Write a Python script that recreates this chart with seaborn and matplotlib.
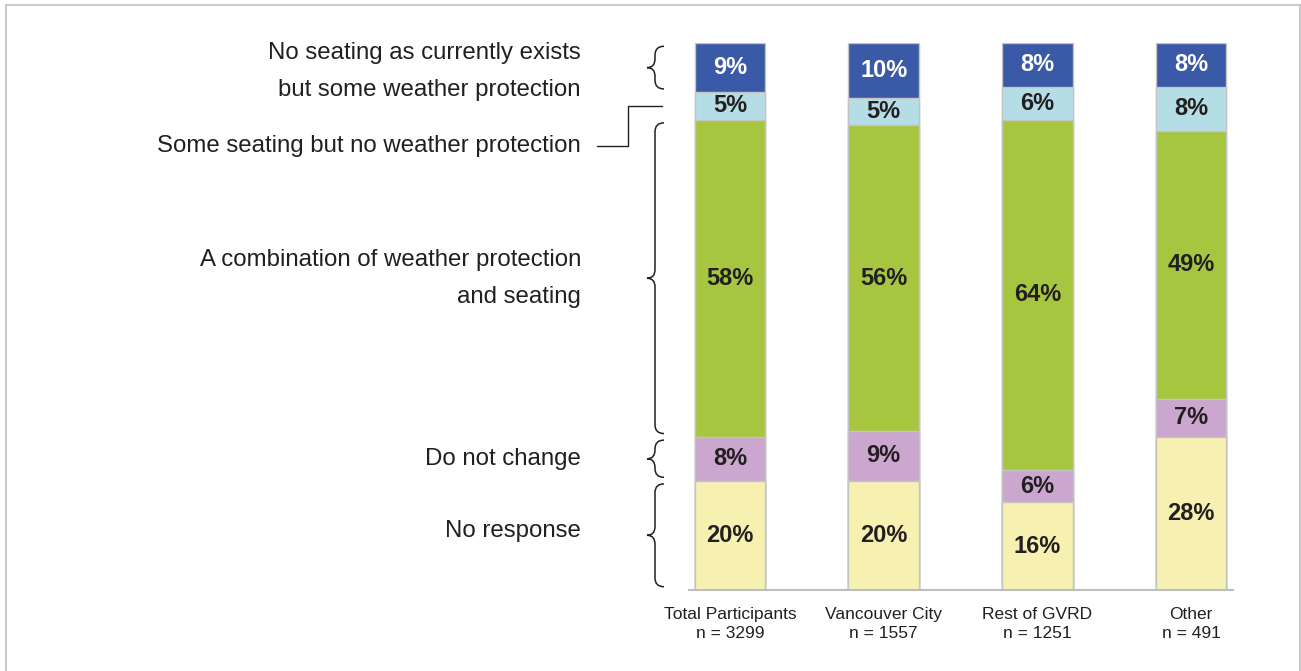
import numpy as np
import pandas as pd
import matplotlib
matplotlib.use("Agg")
import matplotlib.pyplot as plt
import seaborn as sns
from matplotlib.path import Path
from matplotlib.patches import PathPatch, Rectangle
from matplotlib.lines import Line2D
from matplotlib.transforms import blended_transform_factory

# ---------------- data ----------------
categories = ["Total Participants\nn = 3299", "Vancouver City\nn = 1557",
              "Rest of GVRD\nn = 1251", "Other\nn = 491"]
no_response = [20, 20, 16, 28]
do_not_change = [8, 9, 6, 7]
combination = [58, 56, 64, 49]
seating_only = [5, 5, 6, 8]
weather_only = [9, 10, 8, 8]

series_names = ["No response", "Do not change",
                "A combination of weather protection\nand seating",
                "Some seating but no weather protection",
                "No seating as currently exists\nbut some weather protection"]
series_values = [no_response, do_not_change, combination, seating_only, weather_only]
series_colors = ["#F6F1B1", "#CBA6CE", "#A6C63F", "#B4DDE6", "#3A59A6"]
label_colors = ["#231F20", "#231F20", "#231F20", "#231F20", "#FFFFFF"]

sns.set_theme(style="white")
plt.rcParams["font.family"] = ["Liberation Sans", "DejaVu Sans"]

W, H = 1301, 671
fig = plt.figure(figsize=(W / 100, H / 100), dpi=100)

# axes placement (pixels)
x_left_px, x_right_px = 688.5, 1232.5
y_top_px, y_bot_px = 43, 590
ax = fig.add_axes([x_left_px / W, 1 - y_bot_px / H,
                   (x_right_px - x_left_px) / W, (y_bot_px - y_top_px) / H])

vals = np.array(series_values, dtype=float)
cum = np.cumsum(vals, axis=0)
bottoms = cum - vals

# draw from top layer downward so each stacked segment is visible
for k in range(len(series_values) - 1, -1, -1):
    df = pd.DataFrame({"cat": categories, "top": cum[k]})
    sns.barplot(data=df, x="cat", y="top", order=categories, color=series_colors[k],
                width=0.46, edgecolor="#C4C4C4", linewidth=1.0, errorbar=None,
                saturation=1, ax=ax)

# segment labels
for k in range(len(series_values)):
    for i in range(len(categories)):
        v = vals[k, i]
        ax.text(i, bottoms[k, i] + v / 2, f"{int(v)}%", ha="center", va="center",
                fontsize=17, fontweight="bold", color=label_colors[k])

ax.set_xlim(-0.27, 3.27)
ax.set_ylim(0, 100)
ax.set_ylabel("")
ax.set_xlabel("")
ax.set_yticks([])
ax.set_xticks(range(len(categories)))
ax.set_xticklabels(categories, fontsize=12.5, color="#231F20", linespacing=1.35)
ax.tick_params(axis="x", length=0, pad=12)
for s in ["top", "right", "left"]:
    ax.spines[s].set_visible(False)
ax.spines["bottom"].set_color("#BDBDBD")
ax.spines["bottom"].set_linewidth(1.5)

# ---------------- left annotations with braces ----------------
tr = blended_transform_factory(ax.transAxes, ax.transData)
def px_to_axx(px):
    return (px - x_left_px) / (x_right_px - x_left_px)

x_tip = px_to_axx(647)
x_mid = px_to_axx(655)
x_end = px_to_axx(664)
x_text = px_to_axx(581)

def brace(y0, y1, r=1.6):
    ym = (y0 + y1) / 2
    verts = [(x_end, y1), (x_mid, y1), (x_mid, y1 - r),
             (x_mid, ym + r),
             (x_mid, ym), (x_tip, ym),
             (x_mid, ym), (x_mid, ym - r),
             (x_mid, y0 + r),
             (x_mid, y0), (x_end, y0)]
    codes = [Path.MOVETO, Path.CURVE3, Path.CURVE3,
             Path.LINETO,
             Path.CURVE3, Path.CURVE3,
             Path.CURVE3, Path.CURVE3,
             Path.LINETO,
             Path.CURVE3, Path.CURVE3]
    p = PathPatch(Path(verts, codes), transform=tr, fill=False,
                  edgecolor="#231F20", linewidth=1.1, clip_on=False)
    ax.add_patch(p)

tot_b = bottoms[:, 0]
tot_v = vals[:, 0]
gap = 0.6
label_shift = {0: 0.7, 1: 0.0, 2: 0.0, 4: -0.7}
for k in [0, 1, 2, 4]:
    y0 = tot_b[k] + gap
    y1 = tot_b[k] + tot_v[k] - gap
    brace(y0, y1)
    ax.text(x_text, tot_b[k] + tot_v[k] / 2 + label_shift[k], series_names[k],
            transform=tr, ha="right", va="center", fontsize=17.3, color="#231F20",
            linespacing=1.9, clip_on=False)

# connector for the thin "some seating" segment
k = 3
y_seg = tot_b[k] + tot_v[k] / 2
y_lab = y_seg - 7.3
conn = Line2D([px_to_axx(597), px_to_axx(628), px_to_axx(628), px_to_axx(662)],
              [y_lab, y_lab, y_seg, y_seg], transform=tr, color="#231F20",
              linewidth=1.0, clip_on=False)
ax.add_line(conn)
ax.text(x_text, y_lab, series_names[k], transform=tr, ha="right", va="center",
        fontsize=17.3, color="#231F20", clip_on=False)

# frame around the figure
fig.patches.append(Rectangle((6 / W, -0.01), (1300 - 6) / W, 1 - 5 / H + 0.01,
                             transform=fig.transFigure, fill=False,
                             edgecolor="#CACACA", linewidth=1.5))

fig.savefig("out.png", dpi=100)
